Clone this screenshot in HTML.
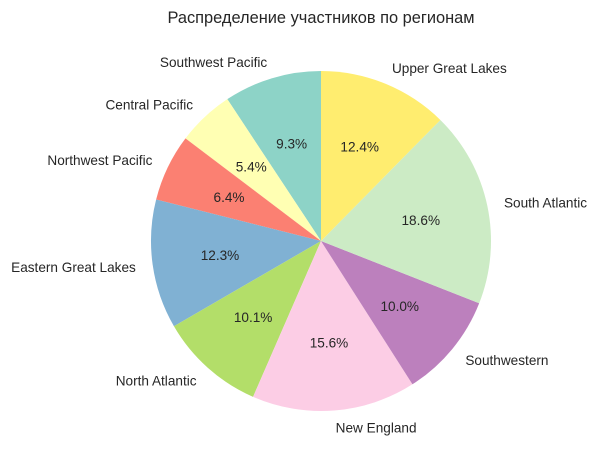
<!DOCTYPE html>
<html><head><meta charset="utf-8"><style>
body{margin:0;background:#fff;}
svg text{font-family:"Liberation Sans","DejaVu Sans",sans-serif;fill:#262626;}
</style></head><body>
<svg id="chart" width="599" height="463" xmlns="http://www.w3.org/2000/svg">
<text x="321" y="23" text-anchor="middle" font-size="16.4">Распределение участников по регионам</text>
<g id="slices"></g><g id="labels"></g>
</svg>
<script>
const categories=["Southwest Pacific","Central Pacific","Northwest Pacific","Eastern Great Lakes","North Atlantic","New England","Southwestern","South Atlantic","Upper Great Lakes"];
const values=[9.3,5.4,6.4,12.3,10.1,15.6,10.0,18.6,12.4];
const colors=["#8dd3c7","#ffffb3","#fb8072","#80b1d3","#b3de69","#fccde5","#bc80bd","#ccebc5","#ffed6f"];
const cx=321,cy=241,R=170,NS="http://www.w3.org/2000/svg";
const total=values.reduce((a,b)=>a+b,0);
const gs=document.getElementById('slices'),gl=document.getElementById('labels');
let ang=90;
function pt(a,r){const t=a*Math.PI/180;return [cx+r*Math.cos(t),cy-r*Math.sin(t)];}
values.forEach((v,i)=>{
  const sweep=v/total*360,a0=ang,a1=ang+sweep,mid=ang+sweep/2;ang=a1;
  const p0=pt(a0,R),p1=pt(a1,R);
  const path=document.createElementNS(NS,'path');
  path.setAttribute('d',`M${cx},${cy}L${p0[0]},${p0[1]}A${R},${R} 0 ${sweep>180?1:0} 0 ${p1[0]},${p1[1]}Z`);
  path.setAttribute('fill',colors[i]);
  
  
  gs.appendChild(path);
  const lp=pt(mid,R*1.1),c=Math.cos(mid*Math.PI/180);
  const t=document.createElementNS(NS,'text');
  t.setAttribute('x',lp[0]);t.setAttribute('y',lp[1]+5);t.setAttribute('font-size','13.6');
  t.setAttribute('text-anchor',c>0.01?'start':(c<-0.01?'end':'middle'));
  t.textContent=categories[i];
  
  
  gl.appendChild(t);
  const pp=pt(mid,R*0.6);
  const u=document.createElementNS(NS,'text');
  u.setAttribute('x',pp[0]);u.setAttribute('y',pp[1]+5);u.setAttribute('font-size','13.6');u.setAttribute('text-anchor','middle');
  u.textContent=v.toFixed(1)+'%';
  
  
  gl.appendChild(u);
});
</script>
</body></html>
